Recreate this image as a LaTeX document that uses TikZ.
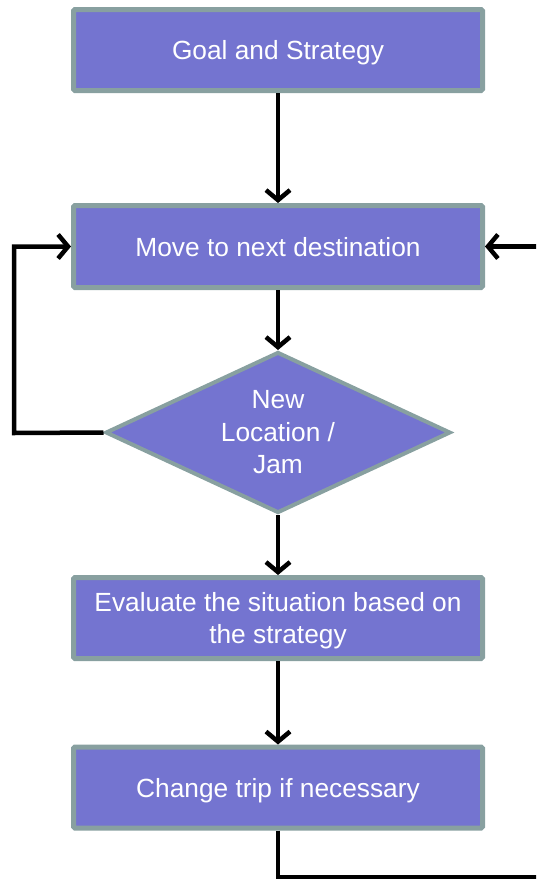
\documentclass[tikz,border=0pt]{standalone}
\usepackage{fontspec}
\setmainfont{Liberation Sans}
\usetikzlibrary{shapes.geometric,arrows.meta}
\definecolor{boxfill}{RGB}{116,116,208}
\definecolor{boxline}{RGB}{136,160,160}
\begin{document}
\begin{tikzpicture}[x=1pt,y=-1pt,
  box/.style={draw=boxline, fill=boxfill, line width=5pt, rounded corners=1.5pt,
    minimum width=409pt, minimum height=81pt, text=white, text depth=0pt,
    font=\fontsize{26.3}{31.5}\selectfont, align=center, inner sep=0pt},
  dec/.style={diamond, draw=boxline, fill=boxfill, line width=4pt,
    minimum width=345pt, minimum height=161pt, aspect=2.1, inner sep=0pt,
    text=white, font=\fontsize{26.3}{32.5}\selectfont, align=center},
  conn/.style={line width=4.5pt, black, -{Straight Barb[length=10pt,width=24pt]}}
]
\useasboundingbox (0,0) rectangle (536,881);
\clip (0,0) rectangle (536,881);
\node[box] (goal) at (278,50) {Goal and Strategy};
\node[box, minimum height=82pt] (move) at (278,246.5) {Move to next destination};
\node[dec] (jam) at (278,432.5) {New\\Location /\\Jam};
\node[box] (eval) at (278,618) {Evaluate the situation based on\\the strategy};
\node[box] (change) at (278,787.5) {Change trip if necessary};
\coordinate (L) at (14,433);
\coordinate (R) at (545,877);
\draw[conn] (goal) -- (move);
\draw[conn] (move) -- (jam);
\draw[conn] (jam) -- (eval);
\draw[conn] (eval) -- (change);
\draw[conn] (jam.west) -- (L) |- (move.west);
\draw[conn] (change.south) |- (R) |- (move.east);
\end{tikzpicture}
\end{document}
